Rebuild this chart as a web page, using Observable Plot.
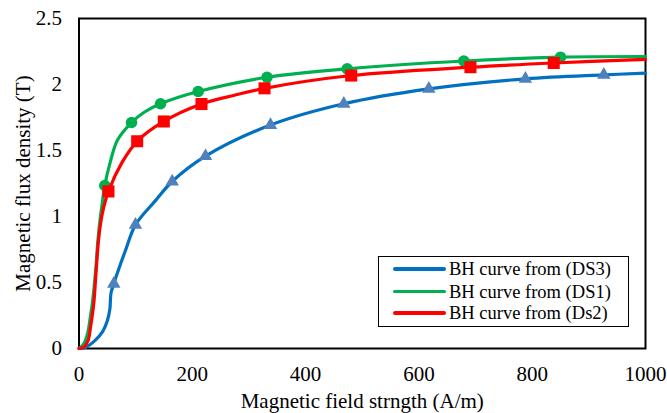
<!DOCTYPE html>
<html>
<head>
<meta charset="utf-8">
<script src="https://cdn.jsdelivr.net/npm/d3@7"></script>
<script src="https://cdn.jsdelivr.net/npm/@observablehq/plot@0.6"></script>
<style>
  html, body { margin: 0; padding: 0; background: #fff; }
  #wrap { position: relative; width: 667px; height: 413px; overflow: hidden; }
  #legend { position: absolute; left: 378px; top: 256px; width: 249px; height: 69px;
    border: 1.5px solid #000; background: #fff;
    font-family: "Times New Roman", "Liberation Serif", serif; font-size: 18.5px; color: #000; }
  .row { position: absolute; left: 0; height: 22px; width: 100%; }
  .sw { position: absolute; left: 14px; width: 53px; height: 3.5px; top: 9px; border-radius: 2px; }
  .lbl { position: absolute; left: 70px; top: 0; line-height: 22px; white-space: nowrap; }
</style>
</head>
<body>
<div id="wrap">
  <div id="chart"></div>
  <div id="legend"></div>
</div>
<script>
// ---- Data ----
const xTicks = [0, 200, 400, 600, 800, 1000];
const yTicks = [0, 0.5, 1, 1.5, 2, 2.5];
const xTitle = "Magnetic field strngth (A/m)";
const yTitle = "Magnetic flux density (T)";
const seriesNames = ["BH curve from (DS3)", "BH curve from (DS1)", "BH curve from (Ds2)"];

// DS3 (blue) smoothed curve
const ds3H = [0, 12, 28, 42, 50, 54.5, 56.5, 61.4, 70, 82, 99.7, 135, 164.5, 223.3, 338, 467.4, 617.5, 788, 926.4, 1000];
const ds3B = [0, 0.01, 0.06, 0.13, 0.21, 0.30, 0.42, 0.49, 0.60, 0.742, 0.937, 1.12, 1.265, 1.457, 1.693, 1.854, 1.967, 2.043, 2.073, 2.086];
// DS3 markers (triangles)
const ds3MarkH = [61.4, 99.7, 164.5, 223.3, 338, 467.4, 617.5, 788, 926.4];
const ds3MarkB = [0.49, 0.937, 1.265, 1.457, 1.693, 1.854, 1.967, 2.043, 2.073];

// DS1 (green) smoothed curve
const ds1H = [0, 9, 16, 20, 23.5, 27, 30, 33, 37, 41, 45.5, 55, 68, 92.7, 115, 143.9, 210.4, 331.9, 473.4, 679.3, 850, 1000];
const ds1B = [0, 0.04, 0.13, 0.24, 0.34, 0.48, 0.62, 0.80, 0.97, 1.10, 1.235, 1.41, 1.58, 1.712, 1.79, 1.854, 1.947, 2.055, 2.119, 2.178, 2.207, 2.212];
// DS1 markers (circles)
const ds1MarkH = [45.5, 92.7, 143.9, 210.4, 331.9, 473.4, 679.3, 850];
const ds1MarkB = [1.235, 1.712, 1.854, 1.947, 2.055, 2.119, 2.178, 2.207];

// Ds2 (red) smoothed curve
const ds2H = [0, 8, 16, 20.3, 26, 30.3, 35, 41, 52, 76, 102.7, 149.7, 216.2, 273, 327.5, 480.5, 691, 838, 1000];
const ds2B = [0, 0.01, 0.06, 0.161, 0.339, 0.59, 0.843, 1.02, 1.19, 1.41, 1.570, 1.720, 1.852, 1.917, 1.971, 2.068, 2.131, 2.163, 2.19];
// Ds2 markers (squares)
const ds2MarkH = [52, 102.7, 149.7, 216.2, 327.5, 480.5, 691, 838];
const ds2MarkB = [1.19, 1.570, 1.720, 1.852, 1.971, 2.068, 2.131, 2.163];

// ---- Styles ----
const lineColors = ["#0070C0", "#00B050", "#FF0000"];
const markColors = ["#4F81BD", "#00B050", "#FF0000"];
const font = "'Times New Roman', 'Liberation Serif', serif";

const toPts = (H, B) => H.map((h, i) => ({h, b: B[i]}));
const curves = [toPts(ds3H, ds3B), toPts(ds1H, ds1B), toPts(ds2H, ds2B)];
const marks = [toPts(ds3MarkH, ds3MarkB), toPts(ds1MarkH, ds1MarkB), toPts(ds2MarkH, ds2MarkB)];
const symbols = ["triangle", "circle", "square"];
const radii = [5, 5.8, 6.8];

const seriesMarks = [];
for (let i = 0; i < 3; i++) {
  seriesMarks.push(Plot.line(curves[i], {x: "h", y: "b", stroke: lineColors[i], strokeWidth: 3.2, curve: "catmull-rom"}));
  seriesMarks.push(Plot.dot(marks[i], {x: "h", y: "b", symbol: symbols[i], r: radii[i], fill: markColors[i], stroke: "none"}));
}

const chart = Plot.plot({
  width: 667,
  height: 413,
  marginLeft: 78.5,
  marginRight: 22,
  marginTop: 18,
  marginBottom: 65,
  style: {fontFamily: font, fontSize: "21px", background: "#fff", color: "#000", overflow: "visible"},
  x: {domain: [0, 1000]},
  y: {domain: [0, 2.5]},
  marks: [
    Plot.axisX({ticks: xTicks, tickSize: 0, tickPadding: 18, fontSize: 21, tickFormat: d => String(d),
      label: xTitle, labelAnchor: "center", labelOffset: 59, labelArrow: "none"}),
    Plot.axisY({ticks: yTicks, tickSize: 0, tickPadding: 17, fontSize: 21, tickFormat: d => String(d),
      label: yTitle, labelAnchor: "center", labelOffset: 64, labelArrow: "none"}),
    Plot.frame({stroke: "#000", strokeWidth: 2}),
    ...seriesMarks
  ]
});
document.getElementById("chart").appendChild(chart);

// ---- Legend ----
const legend = document.getElementById("legend");
const rowTops = [1, 23.5, 45];
seriesNames.forEach((name, i) => {
  const row = document.createElement("div");
  row.className = "row";
  row.style.top = rowTops[i] + "px";
  const sw = document.createElement("div");
  sw.className = "sw";
  sw.style.background = lineColors[i];
  const lbl = document.createElement("div");
  lbl.className = "lbl";
  lbl.textContent = name;
  row.appendChild(sw);
  row.appendChild(lbl);
  legend.appendChild(row);
});
</script>
</body>
</html>
